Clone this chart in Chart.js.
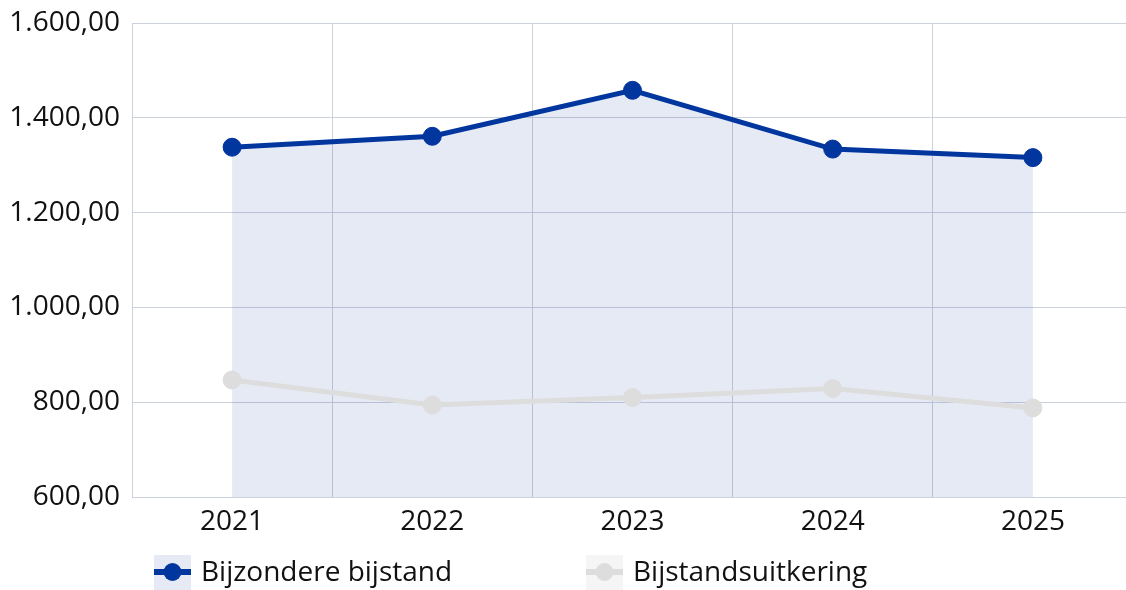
<!DOCTYPE html>
<html lang="nl">
<head>
	<meta charset="UTF-8">
	<title>Bijzondere bijstand</title>
	<script src="https://cdn.jsdelivr.net/npm/chart.js"></script>
	<style>
		html, body { margin: 0; padding: 0; background: #fff; overflow: hidden; }
		canvas { display: block; }
	</style>
</head>
<body>
	<canvas id="canvas1" width="1133" height="590"></canvas>

	<script>
		// gegevens
		const years = ['2021', '2022', '2023', '2024', '2025'];
		const bijzondereBijstand = [1338, 1361, 1458, 1334, 1316];
		const bijstandsuitkering = [847, 794, 810, 829, 788];
		const seriesNames = ['Bijzondere bijstand', 'Bijstandsuitkering'];
		const yTicks = [600, 800, 1000, 1200, 1400, 1600];

		const FONT = '"Open Sans", "Noto Sans", sans-serif';
		const gridColor = '#cbd2de';

		// 1600 -> "1.600,00"
		function nlFormat(v) {
			const whole = Math.round(v).toString().replace(/\B(?=(\d{3})+(?!\d))/g, '.');
			return whole + ',00';
		}

		// legenda zelf tekenen (lijn + bol op licht vlak)
		const bottomLegend = {
			id: 'bottomLegend',
			afterDraw(chart, args, opts) {
				const ctx = chart.ctx;
				chart.data.datasets.forEach((ds, i) => {
					const x = opts.starts[i];
					const y = opts.y;
					ctx.save();
					ctx.fillStyle = ds.legendBox;
					ctx.fillRect(x, y - 17, 37, 35);
					ctx.strokeStyle = ds.borderColor;
					ctx.lineWidth = 6;
					ctx.beginPath();
					ctx.moveTo(x, y);
					ctx.lineTo(x + 37, y);
					ctx.stroke();
					ctx.fillStyle = ds.borderColor;
					ctx.beginPath();
					ctx.arc(x + 18.5, y, 9, 0, Math.PI * 2);
					ctx.fill();
					ctx.fillStyle = '#111';
					ctx.font = '28px ' + FONT;
					ctx.textBaseline = 'middle';
					ctx.fillText(ds.label, x + 47, y + 1);
					ctx.restore();
				});
			}
		};

		const data = {
			labels: years,
			datasets: [
				{
					label: seriesNames[0],
					data: bijzondereBijstand,
					borderColor: '#00369e',
					backgroundColor: 'rgba(0, 51, 153, 0.1)',
					legendBox: 'rgba(0, 51, 153, 0.1)',
					fill: 'start',
					borderWidth: 5,
					pointRadius: 9,
					pointBorderWidth: 1,
					pointBackgroundColor: '#00369e',
					order: 1
				},
				{
					label: seriesNames[1],
					data: bijstandsuitkering,
					borderColor: '#dddddd',
					backgroundColor: 'rgba(221, 221, 221, 0.2)',
					legendBox: '#f5f5f5',
					fill: false,
					borderWidth: 5,
					pointRadius: 9,
					pointBorderWidth: 1,
					pointBackgroundColor: '#dddddd',
					order: 0
				}
			]
		};

		const config = {
			type: 'line',
			data: data,
			plugins: [bottomLegend],
			options: {
				responsive: false,
				animation: false,
				layout: {
					autoPadding: false,
					padding: { left: 0, top: 23, right: 0, bottom: 43.4 }
				},
				scales: {
					x: {
						offset: true,
						grid: { offset: true, color: gridColor, drawTicks: false },
						border: { color: gridColor },
						ticks: {
							padding: 8,
							color: '#111',
							font: { family: FONT, size: 28 }
						}
					},
					y: {
						min: yTicks[0],
						max: yTicks[yTicks.length - 1],
						afterBuildTicks: (axis) => { axis.ticks = yTicks.map(v => ({ value: v })); },
						afterFit: (axis) => { axis.width = 132; },
						grid: { color: gridColor, drawTicks: false },
						border: { color: gridColor },
						ticks: {
							padding: 12,
							color: '#111',
							// kleine lineHeight zodat de bovenste label geen extra ruimte vraagt
							font: { family: FONT, size: 28, lineHeight: 0.4 },
							callback: (v) => nlFormat(v)
						}
					}
				},
				plugins: {
					legend: { display: false },
					tooltip: { enabled: false },
					bottomLegend: { starts: [154, 586], y: 572 }
				}
			}
		};

		const ctx = document.getElementById('canvas1').getContext('2d');
		const resultChart = new Chart(ctx, config);
	</script>
</body>
</html>
